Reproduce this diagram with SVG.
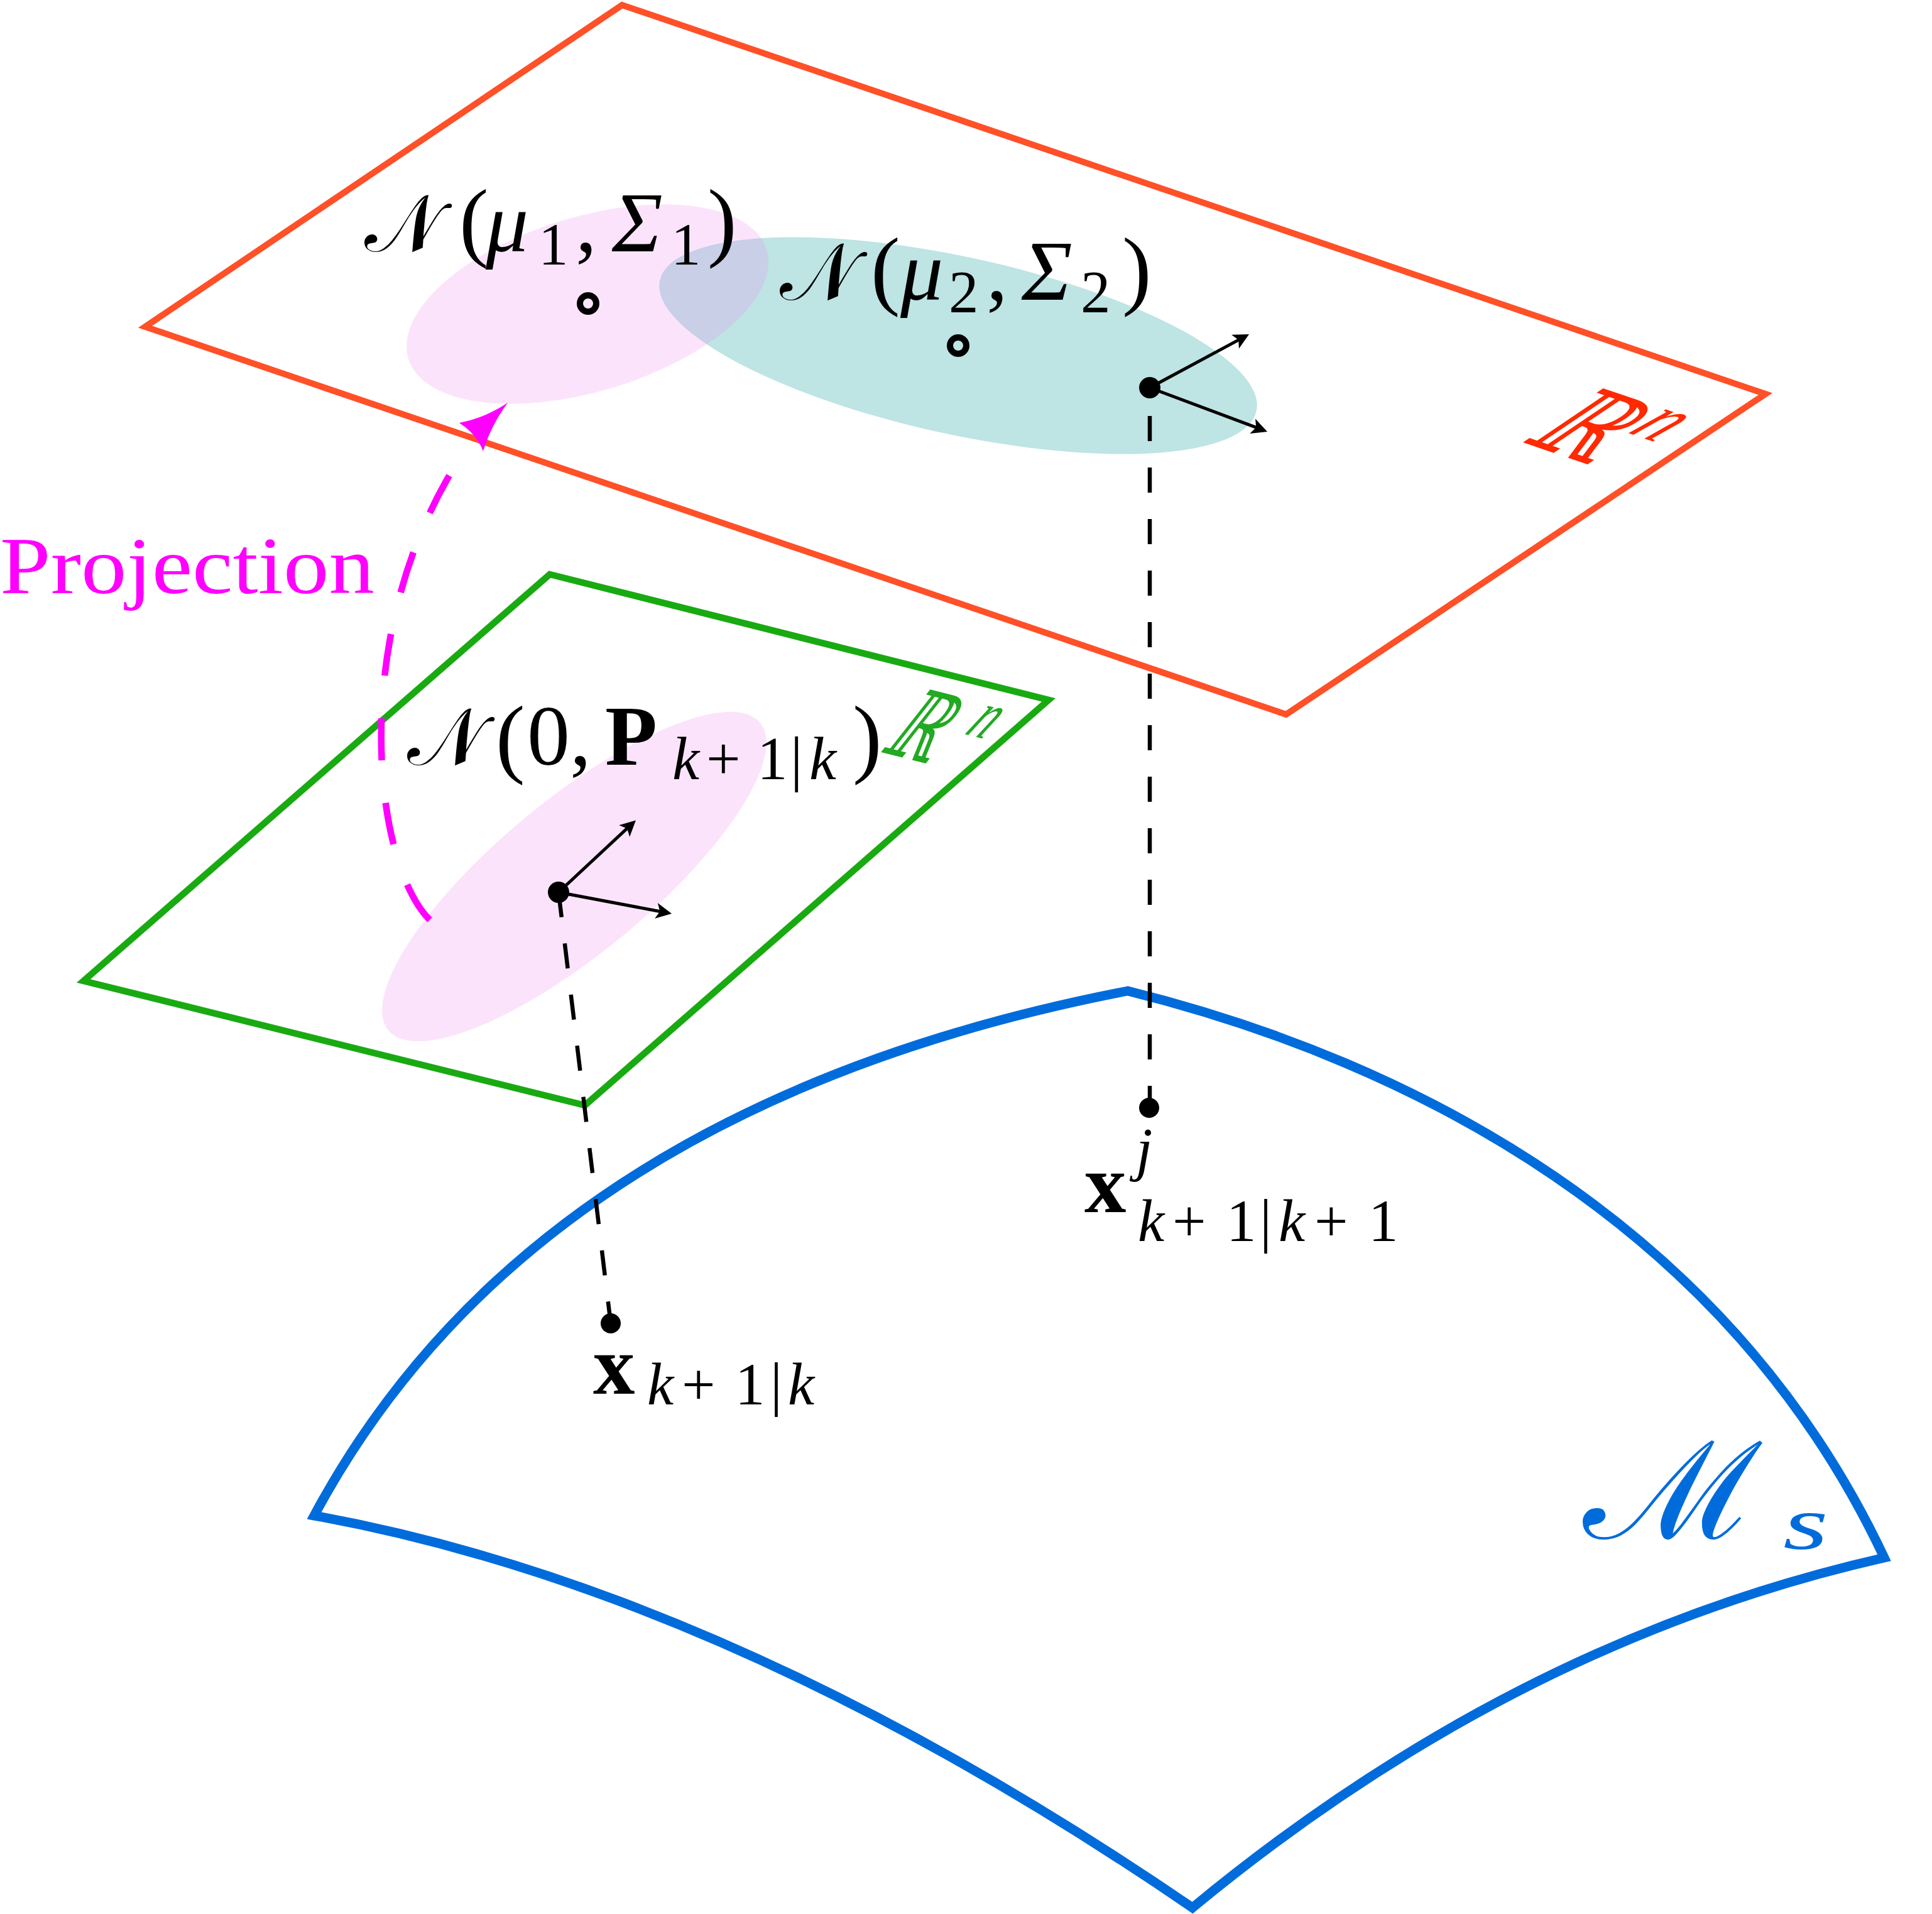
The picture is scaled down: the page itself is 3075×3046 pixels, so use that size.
<svg xmlns="http://www.w3.org/2000/svg" width="3075" height="3046" viewBox="0 0 3075 3046">
<style>
.m{font-family:"Liberation Serif",serif;fill:#000}
.it{font-style:italic}
.cal{font-family:"DejaVu Serif","DejaVu Sans","Noto Sans",serif;font-style:normal}
.par{font-size:140px}
.dash{stroke:#000;stroke-width:6.5;stroke-dasharray:40 42;fill:none}
.vec{stroke:#000;stroke-width:5;fill:none}
.dot{fill:#000}
.ring{fill:none;stroke:#000;stroke-width:10}
</style>
<defs>
<marker id="ah" markerUnits="userSpaceOnUse" markerWidth="40" markerHeight="40" viewBox="-30 -20 40 40" refX="-15" refY="0" orient="auto" overflow="visible">
<path d="M0,0 L-25,-12.5 L-19,0 L-25,12.5 Z" fill="#000"/>
</marker>
</defs>
<rect width="3075" height="3046" fill="#fff"/>

<g id="plane-red">
<polygon points="990,8 2810,627 2047,1137 231,520" fill="none" stroke="#FF5028" stroke-width="10"/>
</g>
<g id="plane-green">
<polygon points="875,914 1669,1114 931,1759 133,1561" fill="none" stroke="#19AA12" stroke-width="10.5"/>
</g>
<g id="manifold">
<path d="M500,2412 Q850,1760 1795,1577 C2250,1690 2750,1950 2999,2479 Q2411,2612 1898,3036 Q1161,2532 500,2412 Z" fill="none" stroke="#006CDC" stroke-width="15"/>
</g>

<g id="gauss-2">
<ellipse cx="1525" cy="550" rx="486" ry="141" transform="rotate(12.35 1525 550)" fill="#BEE4E4"/>
</g>
<g id="gauss-1">
<ellipse cx="935" cy="484" rx="298" ry="139" transform="rotate(-16.9 935 484)" fill="#EE82EE" fill-opacity="0.22"/>
</g>
<g id="gauss-0">
<ellipse cx="914" cy="1395" rx="384" ry="122" transform="rotate(-39.6 914 1395)" fill="#EE82EE" fill-opacity="0.22"/>
</g>

<g id="mean-1"><circle class="ring" cx="936" cy="483" r="13"/></g>
<g id="mean-2"><circle class="ring" cx="1525" cy="550" r="13"/></g>

<g id="connectors">
<line class="dash" x1="1830" y1="662" x2="1830" y2="1763"/>
<line class="dash" x1="889" y1="1420" x2="972" y2="2106"/>
<line class="vec" x1="1830" y1="617" x2="1974.8" y2="539.1" marker-end="url(#ah)"/>
<line class="vec" x1="1830" y1="617" x2="2003" y2="681.7" marker-end="url(#ah)"/>
<line class="vec" x1="889" y1="1420" x2="1001" y2="1315.7" marker-end="url(#ah)"/>
<line class="vec" x1="889" y1="1420" x2="1054.3" y2="1451.2" marker-end="url(#ah)"/>
<path d="M684,1464 C590,1370 550,980 752,700" fill="none" stroke="#FF00FF" stroke-width="10.5" stroke-dasharray="67 68"/>
<path d="M808,641 Q770,666 731,673 Q758,690 769,718 Q781,678 808,641 Z" fill="#FF00FF"/>
</g>

<g id="points">
<circle class="dot" cx="1830" cy="617" r="17"/>
<circle class="dot" cx="889" cy="1420" r="17"/>
<circle class="dot" cx="1829" cy="1763" r="16"/>
<circle class="dot" cx="972" cy="2106" r="16"/>
</g>

<g id="label-n1">
<text class="m" font-size="136"><tspan class="cal" x="580" y="400" font-size="128">𝒩</tspan><tspan class="par" x="731" y="398">(</tspan><tspan class="it" x="773" y="400">μ</tspan><tspan font-size="95" x="857" y="421">1</tspan><tspan x="916" y="400">,</tspan><tspan class="it" x="974" y="400">Σ</tspan><tspan font-size="95" x="1068" y="421">1</tspan><tspan class="par" x="1126" y="398">)</tspan></text>
</g>
<g id="label-n2">
<text class="m" font-size="136"><tspan class="cal" x="1241" y="477" font-size="128">𝒩</tspan><tspan class="par" x="1386" y="475">(</tspan><tspan class="it" x="1433" y="477">μ</tspan><tspan font-size="95" x="1510" y="497">2</tspan><tspan x="1570" y="477">,</tspan><tspan class="it" x="1626" y="477">Σ</tspan><tspan font-size="95" x="1720" y="497">2</tspan><tspan class="par" x="1786" y="475">)</tspan></text>
</g>
<g id="label-n0">
<text class="m" font-size="136"><tspan class="cal" x="648" y="1217" font-size="128">𝒩</tspan><tspan class="par" x="789" y="1220">(</tspan><tspan x="839" y="1217">0</tspan><tspan x="907" y="1217">,</tspan><tspan font-weight="bold" x="963" y="1217">P</tspan><tspan class="it" font-size="97" x="1070" y="1240">k</tspan><tspan font-size="97" x="1124" y="1240">+</tspan><tspan font-size="97" x="1205" y="1240">1</tspan><tspan font-size="97" x="1258" y="1240">|</tspan><tspan class="it" font-size="97" x="1288" y="1240">k</tspan><tspan class="par" x="1357" y="1220">)</tspan></text>
</g>
<g id="label-rn-red">
<text transform="matrix(1.25 0.425 -1.683 1.135 2418 702)" font-size="104" fill="#FF2A00" font-family="DejaVu Serif,serif">ℝ<tspan font-family="Liberation Serif,serif" font-style="italic" font-size="74" x="80" y="-42">n</tspan></text>
</g>
<g id="label-rn-green">
<text transform="matrix(0.902 0.227 -1.074 1.369 1398 1196)" font-size="100" fill="#22AA22" font-family="DejaVu Serif,serif">ℝ<tspan font-family="Liberation Serif,serif" font-style="italic" font-size="72" x="105" y="-38">n</tspan></text>
</g>
<g id="label-projection">
<text class="m" x="0" y="944" font-size="130" style="fill:#FF00FF" textLength="596" lengthAdjust="spacingAndGlyphs">Projection</text>
</g>
<g id="label-xj">
<text class="m" font-size="133"><tspan font-weight="bold" x="1726" y="1929">x</tspan><tspan class="it" font-size="95" x="1808" y="1861">j</tspan><tspan class="it" font-size="95" x="1811" y="1975">k</tspan><tspan font-size="95" x="1866" y="1975">+</tspan><tspan font-size="95" x="1952" y="1975">1</tspan><tspan font-size="95" x="2005" y="1975">|</tspan><tspan class="it" font-size="95" x="2035" y="1975">k</tspan><tspan font-size="95" x="2092" y="1975">+</tspan><tspan font-size="95" x="2178" y="1975">1</tspan></text>
</g>
<g id="label-xpred">
<text class="m" font-size="133"><tspan font-weight="bold" x="944" y="2218">x</tspan><tspan class="it" font-size="95" x="1030" y="2235">k</tspan><tspan font-size="95" x="1085" y="2235">+</tspan><tspan font-size="95" x="1170" y="2235">1</tspan><tspan font-size="95" x="1226" y="2235">|</tspan><tspan class="it" font-size="95" x="1254" y="2235">k</tspan></text>
</g>
<g id="label-ms">
<text font-family="DejaVu Serif,serif" font-size="215" fill="#006CDC" x="2520" y="2448" textLength="285" lengthAdjust="spacingAndGlyphs">ℳ</text>
<text font-family="Liberation Serif,serif" font-style="italic" font-size="120" fill="#006CDC" x="2838" y="2465" textLength="72" lengthAdjust="spacingAndGlyphs">s</text>
</g>
</svg>
